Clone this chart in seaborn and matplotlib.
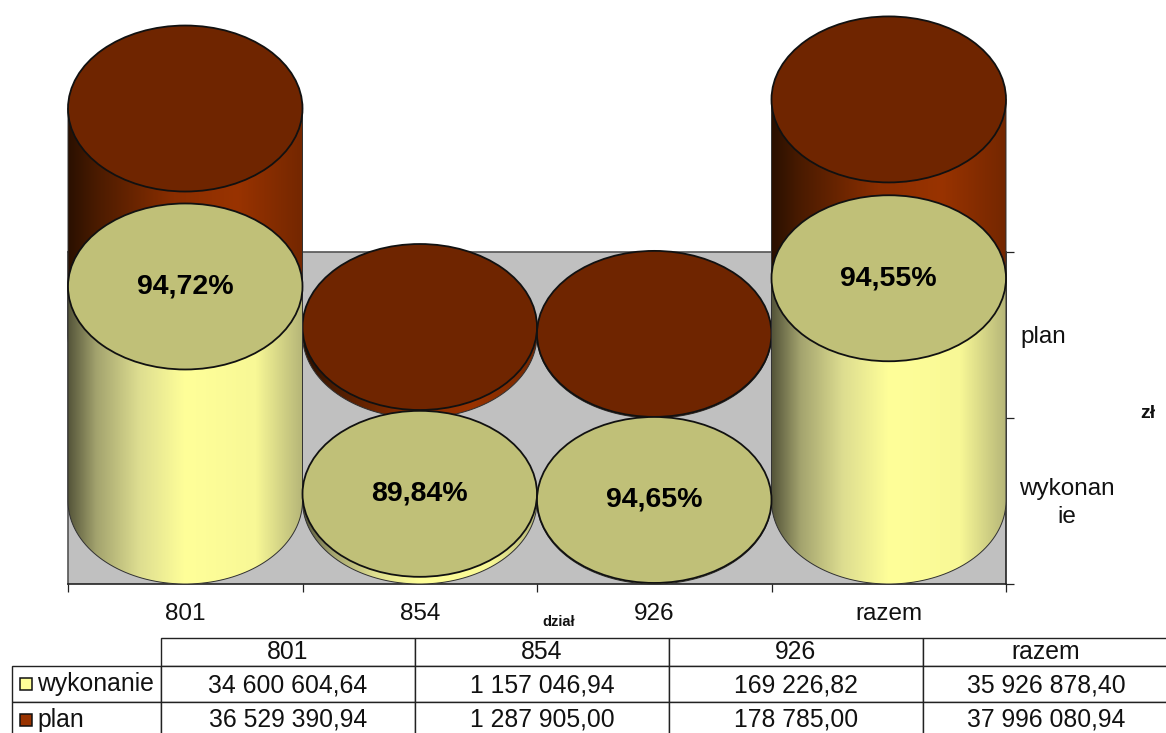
import matplotlib
matplotlib.use("Agg")
import matplotlib.pyplot as plt
import seaborn as sns
import numpy as np
from matplotlib.colors import LinearSegmentedColormap
from matplotlib.patches import Ellipse, PathPatch, Rectangle
from matplotlib.path import Path

# data
categories = ["801", "854", "926", "razem"]
wykonanie = [34600604.64, 1157046.94, 169226.82, 35926878.40]
plan = [36529390.94, 1287905.00, 178785.00, 37996080.94]
percent = ["94,72%", "89,84%", "94,65%", "94,55%"]
wykonanie_txt = ["34 600 604,64", "1 157 046,94", "169 226,82", "35 926 878,40"]
plan_txt = ["36 529 390,94", "1 287 905,00", "178 785,00", "37 996 080,94"]

W, H = 1166, 733
PX_PER_ZL = 6.2 / 1e6          # vertical scale of the chart
DEPTH = 166 / PX_PER_ZL        # plan row stands behind wykonanie row
ELL_H = 166 / PX_PER_ZL        # height of the cylinder ellipse in zl

sns.set_theme(style="white")
plt.rcParams["font.family"] = ["Liberation Sans", "DejaVu Sans"]

fig = plt.figure(figsize=(W / 100, H / 100), dpi=100, facecolor="white")
ax = fig.add_axes([68 / W, 1 - 584 / H, (1006 - 68) / W, (584 - 252) / H], facecolor="#C0C0C0")

plan_cmap = LinearSegmentedColormap.from_list("plan", [(0, "#2A1000"), (0.12, "#4A1B00"), (0.45, "#8A2E00"),
                                                       (0.72, "#993300"), (1, "#742700")])
wyk_cmap = LinearSegmentedColormap.from_list("wyk", [(0, "#55553A"), (0.12, "#A3A36E"), (0.3, "#DDDD90"),
                                                     (0.5, "#FFFF99"), (0.8, "#F8F896"), (1, "#B5B578")])
grad = np.linspace(0, 1, 256).reshape(1, -1)


def cylinders(values, color, top_color, cmap, base, z):
    n = len(ax.patches)
    sns.barplot(x=categories, y=values, color=color, width=1, saturation=1, ax=ax, zorder=z)
    for bar in list(ax.patches)[n:]:
        bar.set_y(base)
        bar.set_visible(False)
        x0, w, h = bar.get_x(), bar.get_width(), bar.get_height()
        t = np.linspace(np.pi, 2 * np.pi, 80)
        xs = x0 + w / 2 + w / 2 * np.cos(t)
        ys = base + ELL_H / 2 * np.sin(t)
        verts = [(x0, base + h)] + list(zip(xs, ys)) + [(x0 + w, base + h), (x0, base + h)]
        body = Path(verts, closed=True)
        im = ax.imshow(grad, cmap=cmap, extent=(x0, x0 + w, base - ELL_H, base + h), aspect="auto", zorder=z)
        im.set_clip_box(fig.bbox)
        im.set_clip_path(PathPatch(body, transform=ax.transData))
        ax.add_patch(PathPatch(body, facecolor="none", edgecolor="#303030", lw=0.7, zorder=z + 0.1, clip_on=False))
        ax.add_patch(Ellipse((x0 + w / 2, base + h), w, ELL_H, facecolor=top_color, edgecolor="#111111",
                             lw=1.3, zorder=z + 0.2, clip_on=False))


cylinders(plan, "#993300", "#6F2500", plan_cmap, DEPTH, 3)
cylinders(wykonanie, "#FFFF99", "#C0C078", wyk_cmap, 0, 4)

for i, (val, pct) in enumerate(zip(wykonanie, percent)):
    ax.text(i, val, pct, ha="center", va="center", fontsize=20.5, fontweight="bold", color="black",
            zorder=6, clip_on=False)

# axes: floor runs from the front base edge to the back wall
ax.set_xlim(-0.5, 3.5)
ax.set_ylim(-83 / PX_PER_ZL, (584 - 252 - 83) / PX_PER_ZL)
ax.set_xlabel("")
ax.set_ylabel("")
ax.set_xticks(np.arange(-0.5, 4, 1))
ax.set_xticklabels([])
ax.set_xticks(range(len(categories)), labels=categories, minor=True)
ax.tick_params(axis="x", which="major", length=6, width=0.9, color="#222222", bottom=True)
ax.tick_params(axis="x", which="minor", length=0, pad=13.5, labelsize=17.5, labelcolor="#111111")
ax.yaxis.tick_right()
ax.set_yticks(np.linspace(*ax.get_ylim(), 3))
ax.set_yticklabels([])
ax.tick_params(axis="y", which="major", length=6, width=0.9, color="#222222", right=True)
for name, spine in ax.spines.items():
    spine.set_visible(True)
    spine.set_color("#222222" if name in ("bottom", "right") else "#555555")
    spine.set_linewidth(1.2)
    spine.set_zorder(1.5)


def ftext(px, py, s, **kw):
    fig.text(px / W, 1 - py / H, s, va="center", **kw)


ftext(1020, 337, "plan", ha="left", fontsize=17.5, color="#111111")
ftext(1067, 503, "wykonan\nie", ha="center", fontsize=17.5, color="#111111", linespacing=1.35)
ftext(1148, 413, "zł", ha="center", fontsize=14, fontweight="bold", color="#111111")
ftext(559, 622, "dział", ha="center", fontsize=10.5, fontweight="bold", color="#111111")

# data table under the chart, bottom and right borders fall off the picture
tab = fig.add_axes([12 / W, -3 / H, (W + 3 - 12) / W, (H + 3 - 638) / H])
tab.set_xlim(12, W + 3)
tab.set_ylim(H + 3, 638)
tab.axis("off")
col_w = [149, 254, 254, 254, 246]
blank = [[""] * 5 for _ in range(3)]
table = tab.table(cellText=blank, cellLoc="center", bbox=[0, 0, 1, 1], colWidths=col_w)
row_h = [28, 36, 34]
for (r, c), cell in table.get_celld().items():
    cell.set_height(row_h[r])
    cell.set_linewidth(1.0)
    cell.set_edgecolor("#222222")
    if r == 0 and c == 0:
        cell.set_visible(False)

col_x = 12 + np.cumsum(col_w[:-1]) + np.array(col_w[1:]) / 2
for y, row in zip([652, 685, 720], [categories, wykonanie_txt, plan_txt]):
    for x, s in zip(col_x, row):
        tab.text(x, y, s, ha="center", va="center", fontsize=17.8, color="#111111", zorder=5)

for label, color, y in [("wykonanie", "#FFFF99", 684), ("plan", "#993300", 720)]:
    tab.add_patch(Rectangle((20, y - 6), 12, 12, facecolor=color, edgecolor="#111111", lw=1.1, zorder=5))
    tab.text(37, y, label, ha="left", va="center", fontsize=17.8, color="#111111", zorder=5)

fig.savefig("out.png", dpi=100)
